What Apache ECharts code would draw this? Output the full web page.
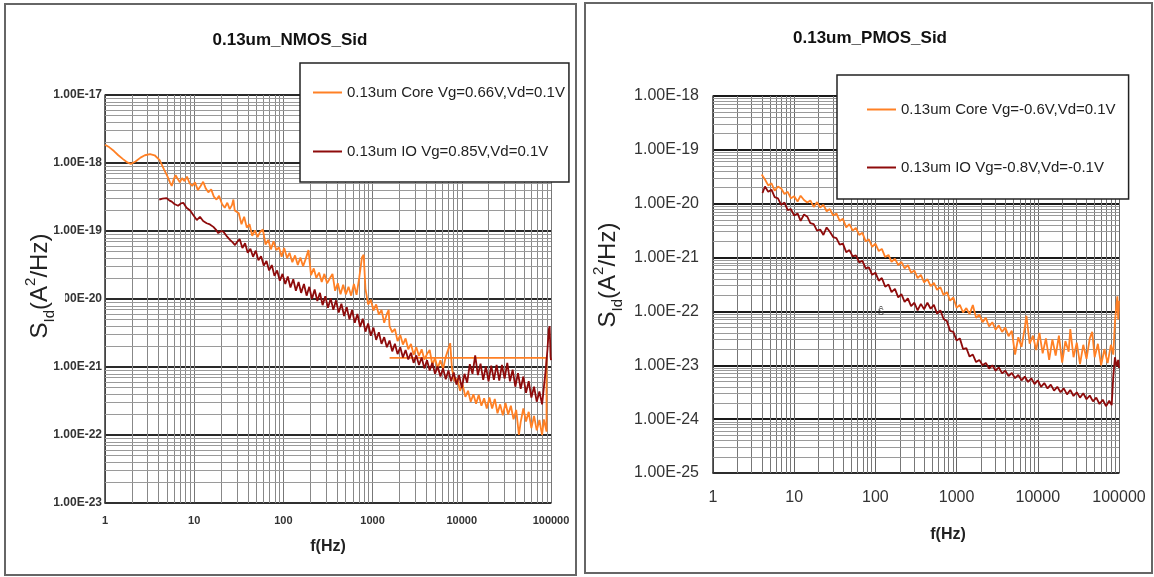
<!DOCTYPE html>
<html>
<head>
<meta charset="utf-8">
<title>0.13um NMOS / PMOS Sid</title>
<script src="https://cdn.jsdelivr.net/npm/echarts@6/dist/echarts.min.js"></script>
<style>
  html, body { margin: 0; padding: 0; background: #fff; }
  #chart { width: 1154px; height: 577px; }
</style>
</head>
<body>
<div id="chart"></div>
<script>
// ---- series names ----
const nmosNames = ['0.13um Core Vg=0.66V,Vd=0.1V', '0.13um IO Vg=0.85V,Vd=0.1V'];
const pmosNames = ['0.13um Core Vg=-0.6V,Vd=0.1V', '0.13um IO Vg=-0.8V,Vd=-0.1V'];
const panelTitles = ['0.13um_NMOS_Sid', '0.13um_PMOS_Sid'];

// ---- axis ranges: frequency in Hz, Sid as decade exponents ----
const freqRange = [1, 100000];
const nmosDecades = [-23, -17];
const pmosDecades = [-25, -18];
const minorSteps = [2, 3, 4, 5, 6, 7, 8, 9];

// ---- NMOS: [f (Hz), Sid (A^2/Hz)] ----
const nmosCore = [
  [1, 1.85e-18], [1.12, 1.7e-18], [1.26, 1.5e-18], [1.41, 1.3e-18], [1.58, 1.15e-18], [1.78, 1.02e-18],
  [1.95, 9.7e-19], [2.2, 1.05e-18], [2.5, 1.2e-18], [2.8, 1.3e-18], [3.2, 1.35e-18], [3.6, 1.3e-18],
  [4.1, 1.1e-18], [4.6, 8.0e-19], [5.0, 6.4e-19], [5.35, 5.2e-19], [5.6, 4.6e-19], [5.9, 5.8e-19],
  [6.2, 6.6e-19], [6.5, 5.9e-19], [6.9, 5.2e-19], [7.3, 6.0e-19], [7.8, 5.4e-19], [8.3, 6.3e-19],
  [8.9, 5.0e-19], [9.5, 4.6e-19], [10.2, 5.2e-19], [11, 4.0e-19], [11.8, 4.6e-19], [12.6, 5.3e-19],
  [13.5, 4.2e-19], [14.4, 3.7e-19], [15.5, 4.1e-19], [16.6, 3.2e-19], [17.8, 2.9e-19], [19, 3.3e-19],
  [20.5, 2.5e-19], [22, 2.2e-19], [23.5, 2.6e-19], [25, 2.1e-19], [26.5, 2.4e-19], [27.5, 2.9e-19],
  [28.5, 2.0e-19], [31.6, 1.82e-19], [33.9, 1.26e-19], [36.3, 1.62e-19], [38.9, 1.12e-19], [41.7, 1.26e-19],
  [44.7, 8.51e-20], [47.9, 1.02e-19], [51.3, 8.13e-20], [55.0, 9.77e-20], [58.9, 1.05e-19], [63.1, 6.31e-20],
  [67.6, 7.41e-20], [72.4, 5.37e-20], [77.6, 7.08e-20], [83.2, 5.25e-20], [89.1, 5.75e-20], [95.5, 4.17e-20],
  [102, 5.62e-20], [110, 3.98e-20], [117, 4.79e-20], [126, 3.47e-20], [135, 4.37e-20], [145, 3.16e-20],
  [155, 4.07e-20], [166, 3.02e-20], [178, 3.89e-20], [191, 5.25e-20], [204, 2.24e-20], [219, 2.82e-20],
  [234, 2.04e-20], [251, 2.45e-20], [269, 1.78e-20], [288, 2.34e-20], [309, 1.70e-20], [331, 2.00e-20],
  [355, 2.34e-20], [380, 1.32e-20], [407, 1.70e-20], [437, 1.17e-20], [468, 1.62e-20], [501, 1.17e-20],
  [537, 1.51e-20], [575, 1.12e-20], [617, 1.66e-20], [661, 1.15e-20], [708, 2.04e-20], [759, 4.07e-20],
  [794, 4.47e-20], [832, 1.41e-20], [891, 8.32e-21], [955, 9.77e-21], [1023, 6.76e-21], [1096, 8.32e-21],
  [1175, 5.89e-21], [1259, 6.92e-21], [1349, 4.47e-21], [1445, 6.03e-21], [1514, 6.92e-21], [1549, 3.98e-21],
  [1660, 3.24e-21], [1778, 3.63e-21], [1905, 2.40e-21], [2042, 2.95e-21], [2188, 2.14e-21], [2344, 2.63e-21],
  [2512, 1.82e-21], [2692, 2.19e-21], [2884, 1.51e-21], [3090, 1.95e-21], [3311, 1.45e-21], [3548, 1.82e-21],
  [3802, 1.29e-21], [4074, 1.55e-21], [4365, 1.78e-21], [4677, 1.07e-21], [5012, 1.35e-21], [5370, 9.55e-22],
  [5754, 1.26e-21], [6166, 9.33e-22], [6607, 1.41e-21], [7079, 1.86e-21], [7413, 2.24e-21], [7762, 9.33e-22],
  [8318, 6.17e-22], [8913, 6.76e-22], [9550, 4.47e-22], [10230, 5.50e-22], [10960, 3.63e-22], [11750, 4.47e-22],
  [12590, 3.09e-22], [13490, 3.98e-22], [14450, 2.88e-22], [15490, 3.89e-22], [16600, 2.69e-22], [17780, 3.47e-22],
  [19050, 2.45e-22], [20420, 3.55e-22], [21880, 2.45e-22], [23440, 3.39e-22], [25120, 2.09e-22], [26920, 2.82e-22],
  [28840, 1.95e-22], [30900, 2.95e-22], [33110, 2.00e-22], [35480, 2.69e-22], [38020, 1.70e-22], [40740, 2.34e-22],
  [43650, 1.00e-22], [45710, 1.55e-22], [48980, 2.45e-22], [52480, 1.58e-22], [56230, 2.19e-22], [60260, 1.26e-22],
  [64570, 1.91e-22], [69180, 1.17e-22], [74130, 1.66e-22], [79430, 1.00e-22], [83180, 1.70e-22], [89130, 1.12e-22],
  [89130, 1.36e-21], [1550, 1.36e-21]
];
const nmosIO = [
  [4.06, 2.9e-19], [4.4, 3.0e-19], [4.9, 3.05e-19], [5.3, 2.8e-19], [5.6, 2.7e-19], [6.0, 2.5e-19],
  [6.6, 2.35e-19], [7.1, 2.55e-19], [7.55, 2.6e-19], [8.2, 2.2e-19], [9.0, 2.0e-19], [9.8, 1.7e-19],
  [10.7, 1.45e-19], [11.6, 1.62e-19], [12.6, 1.4e-19], [13.8, 1.3e-19], [15, 1.25e-19], [16.4, 1.15e-19],
  [17.5, 1.05e-19], [18.6, 9.3e-20], [20, 1.0e-19], [21.2, 9.8e-20], [23, 8.5e-20], [25.2, 7.4e-20],
  [27, 6.8e-20], [28.7, 6.2e-20], [30.5, 7.0e-20], [32.4, 7.59e-20], [34.7, 5.62e-20], [37.2, 6.61e-20],
  [39.8, 4.79e-20], [42.7, 5.50e-20], [45.7, 4.17e-20], [49.0, 5.13e-20], [52.5, 3.72e-20], [56.2, 4.27e-20],
  [60.3, 3.09e-20], [64.6, 3.63e-20], [69.2, 2.63e-20], [74.1, 3.16e-20], [79.4, 2.19e-20], [85.1, 2.63e-20],
  [91.2, 1.86e-20], [97.7, 2.34e-20], [105, 1.66e-20], [112, 2.14e-20], [120, 1.48e-20], [129, 1.95e-20],
  [138, 1.32e-20], [148, 1.78e-20], [158, 1.23e-20], [170, 1.66e-20], [182, 1.12e-20], [195, 1.51e-20],
  [209, 1.00e-20], [224, 1.38e-20], [240, 9.33e-21], [257, 1.23e-20], [275, 8.13e-21], [295, 1.10e-20],
  [316, 7.41e-21], [339, 1.02e-20], [363, 6.92e-21], [389, 9.55e-21], [417, 6.31e-21], [447, 8.51e-21],
  [479, 5.62e-21], [513, 7.59e-21], [550, 5.01e-21], [589, 6.92e-21], [631, 4.47e-21], [676, 6.03e-21],
  [724, 3.89e-21], [776, 5.13e-21], [832, 3.31e-21], [891, 4.37e-21], [955, 2.88e-21], [1023, 3.80e-21],
  [1096, 2.51e-21], [1175, 3.24e-21], [1259, 2.19e-21], [1349, 2.75e-21], [1445, 1.95e-21], [1549, 2.45e-21],
  [1660, 1.70e-21], [1778, 2.19e-21], [1905, 1.55e-21], [2042, 1.95e-21], [2188, 1.38e-21], [2344, 1.78e-21],
  [2512, 1.29e-21], [2692, 1.62e-21], [2884, 1.15e-21], [3090, 1.48e-21], [3311, 1.07e-21], [3548, 1.38e-21],
  [3802, 9.55e-22], [4074, 1.26e-21], [4365, 8.91e-22], [4677, 1.15e-21], [5012, 7.94e-22], [5370, 1.02e-21],
  [5754, 7.24e-22], [6166, 9.55e-22], [6607, 6.61e-22], [7079, 8.91e-22], [7586, 6.17e-22], [8128, 8.32e-22],
  [8710, 5.50e-22], [9333, 7.59e-22], [10000, 4.90e-22], [10720, 7.94e-22], [11480, 5.89e-22], [12300, 1.10e-21],
  [13180, 7.94e-22], [14130, 1.48e-21], [15140, 7.59e-22], [16220, 1.12e-21], [17380, 6.46e-22], [18620, 1.02e-21],
  [19950, 6.17e-22], [21380, 1.05e-21], [22910, 6.46e-22], [24550, 1.07e-21], [26300, 6.31e-22], [28180, 1.07e-21],
  [30200, 6.76e-22], [32360, 1.15e-21], [34670, 6.17e-22], [37150, 9.12e-22], [39810, 5.13e-22], [42660, 8.13e-22],
  [45710, 4.79e-22], [48980, 7.24e-22], [52480, 4.17e-22], [56230, 6.17e-22], [60260, 3.55e-22], [64570, 5.13e-22],
  [69180, 3.09e-22], [74130, 4.37e-22], [79430, 2.82e-22], [83180, 5.01e-22], [87100, 8.91e-22], [91200, 1.78e-21],
  [94400, 3.55e-21], [96600, 3.98e-21], [98900, 1.41e-21], [100000, 1.26e-21]
];

// ---- PMOS: [f (Hz), Sid (A^2/Hz)] ----
const pmosCore = [
  [3.98, 3.47e-20], [4.37, 2.82e-20], [4.79, 2.19e-20], [5.25, 2.40e-20], [5.75, 1.74e-20], [6.31, 2.09e-20],
  [6.92, 1.91e-20], [7.59, 1.51e-20], [8.32, 1.66e-20], [9.12, 1.26e-20], [10, 1.38e-20], [11.0, 1.10e-20],
  [12.0, 1.41e-20], [13.2, 1.17e-20], [14.5, 1.05e-20], [15.8, 1.15e-20], [17.4, 8.71e-21], [19.1, 1.07e-20],
  [20.9, 8.51e-21], [22.9, 9.55e-21], [25.1, 7.24e-21], [27.5, 7.94e-21], [30.2, 6.03e-21], [33.1, 6.61e-21],
  [36.3, 4.79e-21], [39.8, 5.25e-21], [43.7, 3.63e-21], [47.9, 4.17e-21], [52.5, 3.16e-21], [57.5, 3.55e-21],
  [63.1, 2.63e-21], [69.2, 2.88e-21], [75.9, 2.00e-21], [83.2, 2.19e-21], [91.2, 1.58e-21], [100, 1.82e-21],
  [110, 1.32e-21], [120, 1.45e-21], [132, 1.02e-21], [145, 1.12e-21], [158, 8.32e-22], [174, 9.55e-22],
  [191, 7.24e-22], [209, 8.32e-22], [229, 6.31e-22], [251, 7.24e-22], [275, 5.25e-22], [302, 5.75e-22],
  [331, 4.17e-22], [363, 4.79e-22], [398, 3.47e-22], [437, 3.98e-22], [479, 2.95e-22], [525, 3.39e-22],
  [575, 2.51e-22], [631, 2.82e-22], [692, 2.00e-22], [759, 2.29e-22], [832, 1.58e-22], [912, 1.82e-22],
  [1000, 1.17e-22], [1096, 1.32e-22], [1202, 9.55e-23], [1318, 1.15e-22], [1445, 8.91e-23], [1585, 1.32e-22],
  [1738, 7.59e-23], [1905, 8.71e-23], [2089, 6.31e-23], [2291, 7.59e-23], [2512, 5.25e-23], [2754, 6.31e-23],
  [3020, 4.57e-23], [3311, 5.50e-23], [3631, 4.17e-23], [3981, 5.01e-23], [4365, 3.47e-23], [4786, 4.37e-23],
  [5248, 1.58e-23], [5754, 3.31e-23], [6310, 2.19e-23], [6918, 5.01e-23], [7244, 8.32e-23], [7943, 2.51e-23],
  [8710, 3.55e-23], [9550, 1.91e-23], [10470, 3.98e-23], [11480, 1.66e-23], [12590, 3.16e-23], [13800, 1.26e-23],
  [15140, 3.02e-23], [16600, 1.51e-23], [18200, 3.55e-23], [19950, 1.12e-23], [21880, 2.82e-23], [23990, 1.78e-23],
  [25120, 4.68e-23], [27540, 1.41e-23], [30200, 2.63e-23], [33110, 1.05e-23], [36310, 2.40e-23], [39810, 1.32e-23],
  [43650, 3.16e-23], [46770, 4.17e-23], [50120, 1.41e-23], [54950, 2.51e-23], [60260, 1.00e-23], [66070, 2.00e-23],
  [72440, 1.10e-23], [79430, 2.40e-23], [85110, 1.58e-23], [89130, 6.31e-23], [93330, 1.41e-22], [95500, 1.91e-22],
  [97720, 7.08e-23], [100000, 1.58e-22]
];
const pmosIO = [
  [4.07, 1.58e-20], [4.37, 2.09e-20], [4.79, 1.66e-20], [5.25, 1.82e-20], [5.75, 1.32e-20], [6.31, 1.26e-20],
  [6.92, 9.55e-21], [7.59, 1.05e-20], [8.32, 7.59e-21], [9.12, 7.94e-21], [10, 6.03e-21], [11.0, 6.61e-21],
  [12.0, 4.79e-21], [13.2, 6.31e-21], [14.5, 5.75e-21], [15.8, 4.37e-21], [17.4, 4.17e-21], [19.1, 3.16e-21],
  [20.9, 3.31e-21], [22.9, 2.63e-21], [25.1, 3.63e-21], [27.5, 3.02e-21], [30.2, 2.40e-21], [33.1, 2.29e-21],
  [36.3, 1.74e-21], [39.8, 1.82e-21], [43.7, 1.26e-21], [47.9, 1.38e-21], [52.5, 1.05e-21], [57.5, 1.10e-21],
  [63.1, 8.13e-22], [69.2, 8.71e-22], [75.9, 6.31e-22], [83.2, 6.61e-22], [91.2, 4.79e-22], [100, 5.25e-22],
  [110, 3.72e-22], [120, 4.17e-22], [132, 2.88e-22], [145, 3.16e-22], [158, 2.29e-22], [174, 2.63e-22],
  [191, 1.82e-22], [209, 2.09e-22], [229, 1.51e-22], [251, 1.74e-22], [275, 1.26e-22], [302, 1.45e-22],
  [331, 1.05e-22], [363, 1.38e-22], [398, 1.10e-22], [437, 1.45e-22], [479, 1.12e-22], [525, 1.32e-22],
  [575, 9.12e-23], [631, 1.05e-22], [692, 7.24e-23], [759, 6.61e-23], [832, 4.37e-23], [912, 4.17e-23],
  [1000, 2.88e-23], [1096, 3.16e-23], [1202, 2.00e-23], [1318, 2.09e-23], [1445, 1.45e-23], [1585, 1.58e-23],
  [1738, 1.15e-23], [1905, 1.26e-23], [2089, 1.00e-23], [2291, 1.10e-23], [2512, 8.71e-24], [2754, 1.00e-23],
  [3020, 7.94e-24], [3311, 9.12e-24], [3631, 7.08e-24], [3981, 7.94e-24], [4365, 6.31e-24], [4786, 7.24e-24],
  [5248, 5.75e-24], [5754, 6.61e-24], [6310, 5.25e-24], [6918, 6.17e-24], [7586, 4.90e-24], [8318, 5.75e-24],
  [9120, 4.47e-24], [10000, 5.25e-24], [10960, 3.98e-24], [12020, 4.68e-24], [13180, 3.72e-24], [14450, 4.37e-24],
  [15850, 3.39e-24], [17380, 3.98e-24], [19050, 3.16e-24], [20890, 3.72e-24], [22910, 2.88e-24], [25120, 3.47e-24],
  [27540, 2.69e-24], [30200, 3.16e-24], [33110, 2.51e-24], [36310, 3.02e-24], [39810, 2.34e-24], [43650, 2.75e-24],
  [47860, 2.14e-24], [52480, 2.51e-24], [57540, 1.91e-24], [63100, 2.29e-24], [69180, 1.74e-24], [75860, 2.19e-24],
  [81280, 1.82e-24], [85110, 6.31e-24], [89130, 1.41e-23], [93330, 9.55e-24], [97720, 1.26e-23], [100000, 8.91e-24]
];

// ---- styling ----
const FONT = "'Liberation Sans', Arial, sans-serif";
const ORANGE = '#FF8025';
const DARKRED = '#8E0B0B';

const chart = echarts.init(document.getElementById('chart'), null, { renderer: 'canvas' });

// Sid is plotted on a decade-exponent value axis
const toDecades = rows => rows.map(([f, s]) => [f, Math.log10(s)]);

// minor (2..9 per decade) grid positions
function minorX(loExp, hiExp) {
  const out = [];
  for (let e = loExp; e < hiExp; e++) for (const m of minorSteps) out.push({ xAxis: m * Math.pow(10, e) });
  return out;
}
function minorY(loExp, hiExp) {
  const out = [];
  for (let e = loExp; e < hiExp; e++) for (const m of minorSteps) out.push({ yAxis: e + Math.log10(m) });
  return out;
}

function gridHelper(idx, decades, hColor, vColor) {
  const mk = (name, color, data) => ({
    name, type: 'line', xAxisIndex: idx, yAxisIndex: idx, data: [], silent: true, animation: false,
    markLine: {
      silent: true, animation: false, z: 1, symbol: ['none', 'none'], label: { show: false },
      lineStyle: { color, width: 1, type: 'solid' }, data
    }
  });
  return [
    mk('vgrid' + idx, vColor, minorX(0, 5)),
    mk('hgrid' + idx, hColor, minorY(decades[0], decades[1]))
  ];
}

const sciFmt = v => Math.pow(10, v).toExponential(2).toUpperCase();
const freqFmt = v => String(Math.round(v));

function lineSeries(name, data, color, idx) {
  return {
    name, type: 'line', data: toDecades(data), xAxisIndex: idx, yAxisIndex: idx,
    symbol: 'none', showSymbol: false, z: 3, animation: false,
    lineStyle: { color, width: 1.8 }, itemStyle: { color }
  };
}

const legendBase = {
  orient: 'vertical', z: 10, icon: 'rect', itemWidth: 29, itemHeight: 2,
  backgroundColor: '#fff', borderColor: '#222', borderWidth: 1.5,
  textStyle: { fontFamily: FONT, fontSize: 15, color: '#222' }
};

function xAxisOpt(idx, o) {
  return Object.assign({
    type: 'log', gridIndex: idx, logBase: 10, min: freqRange[0], max: freqRange[1],
    name: 'f(Hz)', nameLocation: 'middle',
    axisLine: { lineStyle: { color: '#333', width: 1.5 } }, axisTick: { show: false },
    splitLine: { show: true, lineStyle: { color: '#777', width: 1 } }
  }, o);
}
function yAxisOpt(idx, decades, o) {
  return Object.assign({
    type: 'value', gridIndex: idx, min: decades[0], max: decades[1], interval: 1,
    axisLine: { lineStyle: { color: '#333', width: 1.5 } }, axisTick: { show: false },
    splitLine: { show: true, lineStyle: { color: '#2a2a2a', width: 2 } }
  }, o);
}

// axis title S_Id(A^2/Hz), rotated to read upwards
function yTitle(x, y) {
  return {
    type: 'text', x, y, rotation: Math.PI / 2, silent: true, z: 10,
    style: {
      text: 'S{sub|Id}(A{sup|2}/Hz)', align: 'center', verticalAlign: 'middle',
      font: '24px ' + FONT, fill: '#222',
      rich: {
        sub: { fontSize: 15, fontFamily: FONT, lineHeight: 34, verticalAlign: 'bottom', fill: '#222' },
        sup: { fontSize: 15, fontFamily: FONT, lineHeight: 34, verticalAlign: 'top', fill: '#222' }
      }
    }
  };
}

const option = {
  backgroundColor: '#fff',
  animation: false,
  title: [
    { text: panelTitles[0], left: 290, top: 32, textAlign: 'center', padding: 0,
      textStyle: { fontFamily: FONT, fontSize: 17, fontWeight: 'bold', color: '#111' } },
    { text: panelTitles[1], left: 870, top: 30, textAlign: 'center', padding: 0,
      textStyle: { fontFamily: FONT, fontSize: 17, fontWeight: 'bold', color: '#111' } }
  ],
  legend: [
    Object.assign({}, legendBase, { data: nmosNames, left: 300, top: 63, padding: [22, 4, 23, 13], itemGap: 44 }),
    Object.assign({}, legendBase, { data: pmosNames, left: 837, top: 75, padding: [27, 13, 24, 30], itemGap: 43 })
  ],
  grid: [
    { left: 105, top: 95, width: 446, height: 408, outerBoundsMode: 'none', containLabel: false },
    { left: 713, top: 96, width: 406, height: 377, outerBoundsMode: 'none', containLabel: false }
  ],
  xAxis: [
    xAxisOpt(0, {
      nameGap: 36,
      nameTextStyle: { fontFamily: FONT, fontSize: 16, fontWeight: 'bold', color: '#222' },
      axisLabel: { formatter: freqFmt, margin: 12, fontFamily: FONT, fontSize: 11, fontWeight: 'bold', color: '#333' }
    }),
    xAxisOpt(1, {
      nameGap: 54,
      nameTextStyle: { fontFamily: FONT, fontSize: 16, fontWeight: 'bold', color: '#222', padding: [0, 0, 0, 64] },
      axisLabel: { formatter: freqFmt, margin: 17, fontFamily: FONT, fontSize: 16, color: '#333' },
      splitLine: { show: true, lineStyle: { color: '#666', width: 1 } }
    })
  ],
  yAxis: [
    yAxisOpt(0, nmosDecades, {
      axisLabel: { formatter: sciFmt, margin: 3, fontFamily: FONT, fontSize: 12, fontWeight: 'bold', color: '#333' }
    }),
    yAxisOpt(1, pmosDecades, {
      axisLabel: { formatter: sciFmt, margin: 14, fontFamily: FONT, fontSize: 16, color: '#333' },
      splitLine: { show: true, lineStyle: { color: '#1a1a1a', width: 2 } }
    })
  ],
  graphic: [
    { type: 'rect', shape: { x: 5, y: 4, width: 571, height: 571 }, silent: true,
      style: { fill: null, stroke: '#666', lineWidth: 2 } },
    { type: 'rect', shape: { x: 585, y: 3, width: 567, height: 570 }, silent: true,
      style: { fill: null, stroke: '#666', lineWidth: 2 } },
    yTitle(40, 286),
    yTitle(608, 275),
    // the NMOS axis title sits over the start of the 1E-20 tick label
    { type: 'rect', shape: { x: 50, y: 292, width: 15, height: 14 }, silent: true, z: 9,
      style: { fill: '#fff' } },
    { type: 'text', silent: true, z: 20,
      style: { text: 'ŝ', x: 881, y: 312, align: 'center', verticalAlign: 'middle',
        font: '12px ' + FONT, fill: '#444' } }
  ],
  series: [].concat(
    gridHelper(0, nmosDecades, '#9a9a9a', '#888'),
    gridHelper(1, pmosDecades, '#9a9a9a', '#777'),
    [
      lineSeries(nmosNames[0], nmosCore, ORANGE, 0),
      lineSeries(nmosNames[1], nmosIO, DARKRED, 0),
      lineSeries(pmosNames[0], pmosCore, ORANGE, 1),
      lineSeries(pmosNames[1], pmosIO, DARKRED, 1)
    ]
  )
};

chart.setOption(option);
</script>
</body>
</html>
